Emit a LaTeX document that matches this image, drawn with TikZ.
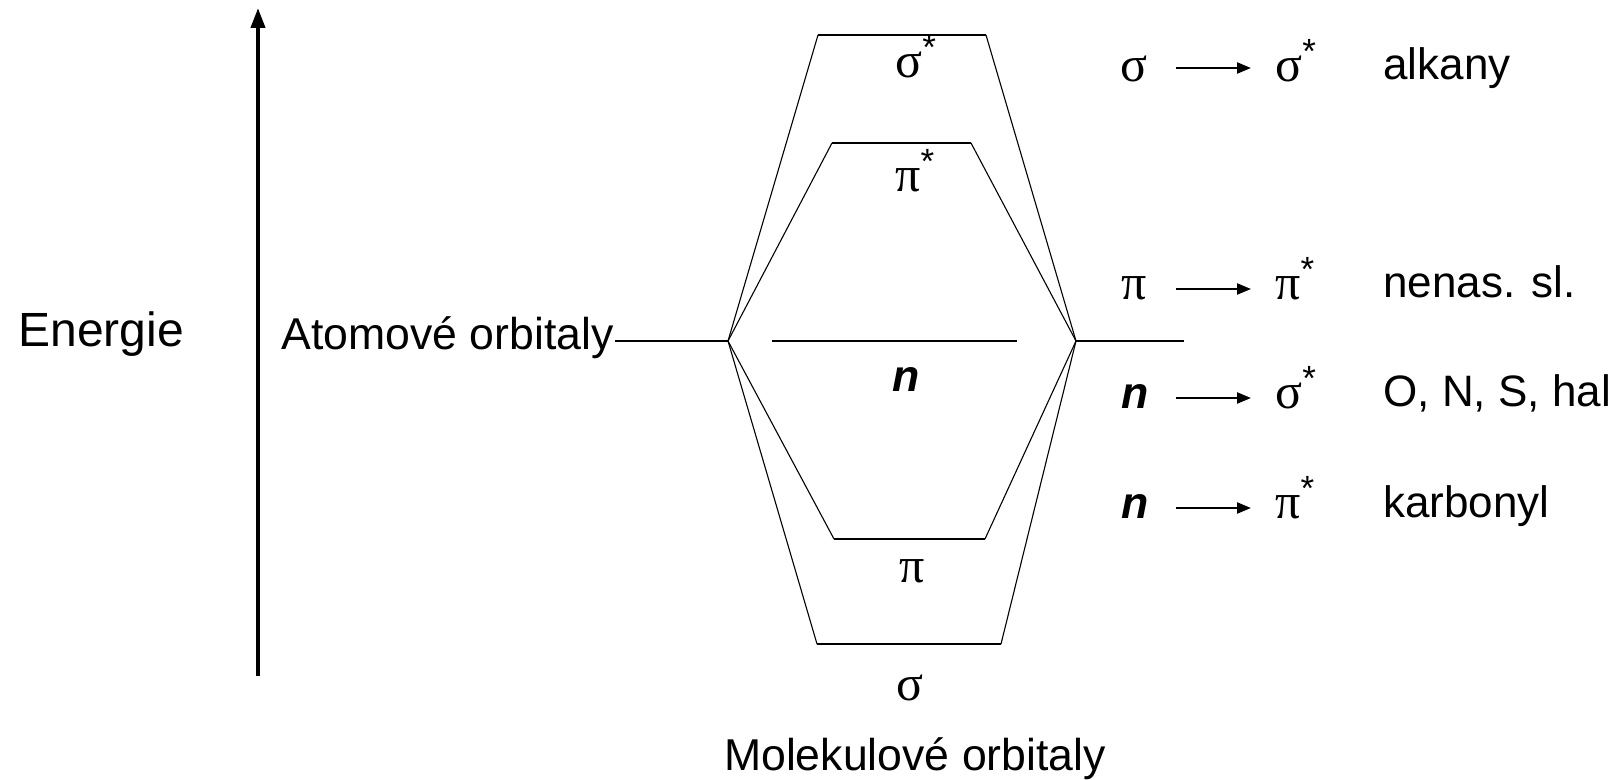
\documentclass[tikz,border=0pt]{standalone}
\usepackage{fontspec}
\setmainfont{Liberation Sans}
\newfontfamily\grk{Liberation Serif}
\newfontfamily\arl{Liberation Sans}
\usetikzlibrary{arrows.meta}
\newcommand\st{\textsuperscript{\arl *}}
\begin{document}
\begin{tikzpicture}[x=0.5pt,y=-0.5pt,
  txt/.style={font=\fontsize{22.3}{26}\selectfont, inner sep=0pt},
  rtxt/.style={font=\fontsize{22}{26}\selectfont, inner sep=0pt},
  gtxt/.style={font=\fontsize{25}{28}\selectfont\grk, inner sep=0pt},
  lvl/.style={line width=0.85pt},
  corr/.style={line width=0.55pt},
  trans/.style={line width=1.1pt,-{Triangle[length=7pt,width=5.5pt]}},
  axis/.style={line width=2pt,-{Triangle[length=10pt,width=7pt]}}
]
\useasboundingbox (0,0) rectangle (1623,780);
% energy axis
\coordinate (ax0) at (258,676);
\coordinate (ax1) at (258,8);
\draw[axis] (ax0) -- (ax1);
\node[font=\fontsize{24}{28}\selectfont,inner sep=0pt,anchor=base west] (energie) at (18,347) {Energie};
\node[txt,anchor=base east] (ao) at (614,350) {Atomové orbitaly};
% vertices
\coordinate (L) at (728,341);
\coordinate (R) at (1076,341);
\coordinate (Rend) at (1184,341);
\coordinate (aoend) at (615,341);
\draw[corr] (aoend) -- (L);
\draw[corr] (R) -- (Rend);
% levels
\coordinate (ss1) at (818,35);  \coordinate (ss2) at (986,35);
\coordinate (ps1) at (832,143); \coordinate (ps2) at (971,143);
\coordinate (n1) at (772,341);  \coordinate (n2) at (1017,341);
\coordinate (p1) at (834,539);  \coordinate (p2) at (985,539);
\coordinate (s1) at (817,644);  \coordinate (s2) at (1001,644);
\draw[lvl] (ss1) -- (ss2);
\draw[lvl] (ps1) -- (ps2);
\draw[lvl] (n1) -- (n2);
\draw[lvl] (p1) -- (p2);
\draw[lvl] (s1) -- (s2);
\draw[corr] (L) -- (ss1) (ss2) -- (R);
\draw[corr] (L) -- (ps1) (ps2) -- (R);
\draw[corr] (L) -- (p1) (p2) -- (R);
\draw[corr] (L) -- (s1) (s2) -- (R);
% level labels
\node[gtxt,anchor=base west] (lss) at (895,78) {σ\st};
\node[gtxt,anchor=base west] (lps) at (895,192) {π\st};
\node[txt,anchor=base] (ln) at (906,392) {\textbf{\textit{n}}};
\node[gtxt,anchor=base] (lp) at (912,582) {π};
\node[gtxt,anchor=base] (ls) at (910,700) {σ};
\node[txt,anchor=base] (mo) at (915,770) {Molekulové orbitaly};
% transitions
\node[gtxt,anchor=base] (t1a) at (1134,82) {σ};
\node[gtxt,anchor=base west] (t1b) at (1275,82) {σ\st};
\node[rtxt,anchor=base west] (t1c) at (1383,80) {alkany};
\coordinate (a1s) at (1176,68); \coordinate (a1e) at (1251,68);
\draw[trans] (a1s) -- (a1e);
\node[gtxt,anchor=base] (t2a) at (1134,300) {π};
\node[gtxt,anchor=base west] (t2b) at (1275,300) {π\st};
\node[rtxt,anchor=base west] (t2c) at (1383,298) {nenas. sl.};
\coordinate (a2s) at (1176,289); \coordinate (a2e) at (1251,289);
\draw[trans] (a2s) -- (a2e);
\node[txt,anchor=base] (t3a) at (1135,409) {\textbf{\textit{n}}};
\node[gtxt,anchor=base west] (t3b) at (1275,409) {σ\st};
\node[rtxt,anchor=base west] (t3c) at (1383,407) {O, N, S, hal};
\coordinate (a3s) at (1176,398); \coordinate (a3e) at (1251,398);
\draw[trans] (a3s) -- (a3e);
\node[txt,anchor=base] (t4a) at (1135,519) {\textbf{\textit{n}}};
\node[gtxt,anchor=base west] (t4b) at (1275,519) {π\st};
\node[rtxt,anchor=base west] (t4c) at (1383,517) {karbonyl};
\coordinate (a4s) at (1176,508); \coordinate (a4e) at (1251,508);
\draw[trans] (a4s) -- (a4e);
\end{tikzpicture}
\end{document}
